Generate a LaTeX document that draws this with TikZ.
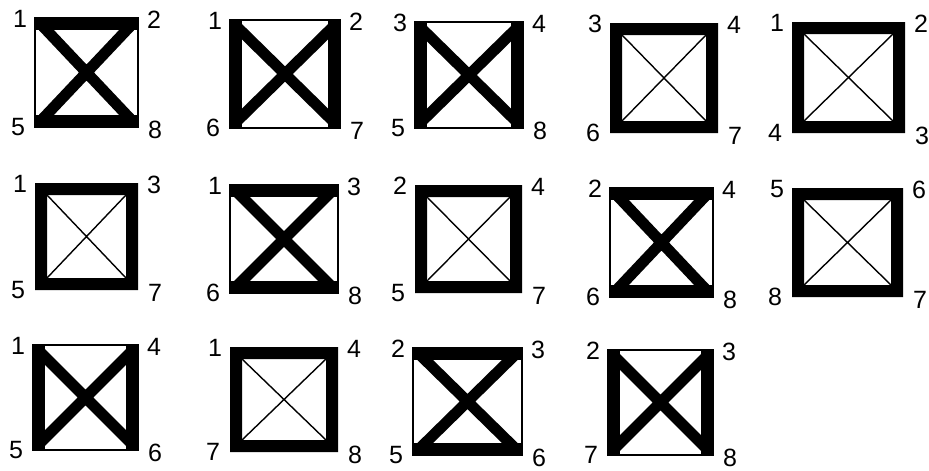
\documentclass[tikz,border=0pt]{standalone}
\usepackage{fontspec}
\setmainfont{Liberation Sans}
\newcommand{\lblfont}{\fontsize{25}{30}\selectfont}
\tikzset{
  lbl/.style={font=\lblfont, inner sep=0pt},
  thinedge/.style={line width=1.6pt},
  thickdiag/.style={line width=11pt},
  thindiag/.style={line width=1.4pt},
}
\newcommand{\bw}{12}
\newcommand{\labs}[9]{%
  \node[lbl] (#1a) at (#2-15,#3+1) {#6};
  \node[lbl] (#1b) at (#4+16,#3+2) {#7};
  \node[lbl] (#1c) at (#2-17,#5) {#8};
  \node[lbl] (#1d) at (#4+17,#5+3) {#9};}
% thick top & bottom + thick diagonals
\newcommand{\sqH}[9]{%
  \begin{scope}\clip (#2,#3) rectangle (#4,#5);
  \draw[thickdiag] (#2,#3) -- (#4,#5) (#4,#3) -- (#2,#5);\end{scope}
  \fill (#2,#3) rectangle (#4,#3+\bw);
  \fill (#2,#5-\bw) rectangle (#4,#5);
  \draw[thinedge] (#2,#3) rectangle (#4,#5);
  \labs{#1}{#2}{#3}{#4}{#5}{#6}{#7}{#8}{#9}}
% thick left & right + thick diagonals
\newcommand{\sqV}[9]{%
  \begin{scope}\clip (#2,#3) rectangle (#4,#5);
  \draw[thickdiag] (#2,#3) -- (#4,#5) (#4,#3) -- (#2,#5);\end{scope}
  \fill (#2,#3) rectangle (#2+\bw,#5);
  \fill (#4-\bw,#3) rectangle (#4,#5);
  \draw[thinedge] (#2,#3) rectangle (#4,#5);
  \labs{#1}{#2}{#3}{#4}{#5}{#6}{#7}{#8}{#9}}
% thick border all round + thin diagonals
\newcommand{\sqB}[9]{%
  \fill[even odd rule] (#2,#3) rectangle (#4,#5) (#2+\bw,#3+\bw) rectangle (#4-\bw,#5-\bw);
  \draw[thindiag] (#2+\bw,#3+\bw) -- (#4-\bw,#5-\bw) (#4-\bw,#3+\bw) -- (#2+\bw,#5-\bw);
  \labs{#1}{#2}{#3}{#4}{#5}{#6}{#7}{#8}{#9}}
\begin{document}
\begin{tikzpicture}[x=1pt,y=-1pt]
  \useasboundingbox[fill=white] (0,0) rectangle (929,471);
  % row 1
  \sqH{s1}{35}{18}{138}{127}{1}{2}{5}{8}
  \sqV{s2}{230}{20}{340}{128}{1}{2}{6}{7}
  \sqV{s3}{415}{22}{523}{128}{3}{4}{5}{8}
  \sqB{s4}{610}{23}{718}{133}{3}{4}{6}{7}
  \sqB{s5}{792}{22}{905}{133}{1}{2}{4}{3}
  % row 2
  \sqB{s6}{35}{183}{138}{290}{1}{3}{5}{7}
  \sqH{s7}{230}{185}{338}{293}{1}{3}{6}{8}
  \sqB{s8}{415}{185}{522}{293}{2}{4}{5}{7}
  \sqH{s9}{610}{188}{713}{297}{2}{4}{6}{8}
  \sqB{s10}{792}{188}{903}{297}{5}{6}{8}{7}
  % row 3
  \sqV{s11}{33}{345}{138}{450}{1}{4}{5}{6}
  \sqB{s12}{230}{347}{338}{452}{1}{4}{7}{8}
  \sqH{s13}{413}{348}{522}{455}{2}{3}{5}{6}
  \sqV{s14}{608}{350}{713}{455}{2}{3}{7}{8}
\end{tikzpicture}
\end{document}
